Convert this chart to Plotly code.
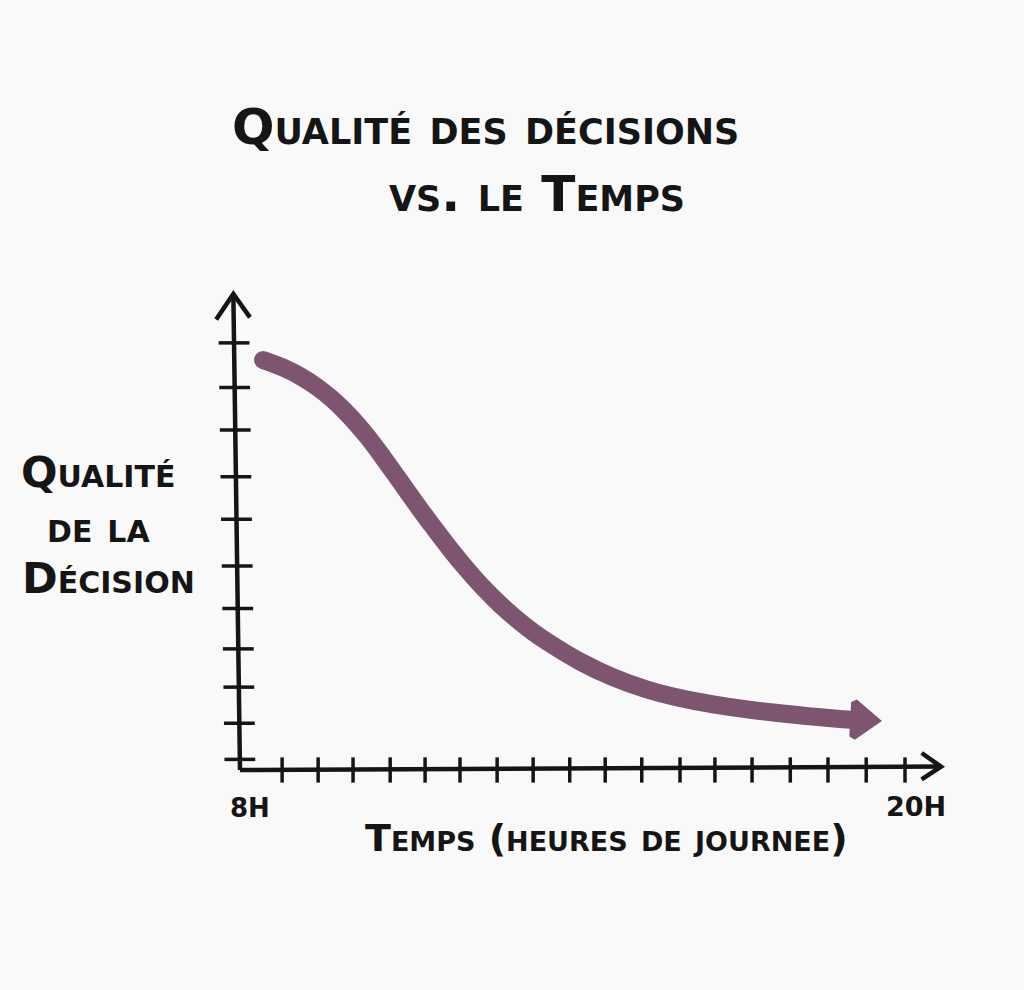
import plotly.graph_objects as go

# ---- data (hours of the day vs decision quality) ----
curve_hours = [8.415, 8.776, 9.083, 9.389, 9.678, 9.985, 10.292, 10.580, 10.887, 11.194,
               11.483, 11.789, 12.096, 12.385, 12.692, 12.998, 13.287, 13.594, 14.135,
               14.731, 15.344, 15.940, 16.535, 17.149, 17.744, 18.340, 18.827, 19.134]
curve_quality = [9.647, 9.468, 9.268, 9.012, 8.711, 8.318, 7.854, 7.358, 6.798, 6.238,
                 5.725, 5.205, 4.718, 4.296, 3.896, 3.544, 3.249, 2.976, 2.553,
                 2.181, 1.894, 1.692, 1.544, 1.428, 1.334, 1.256, 1.202, 1.172]

x_tick_hours = [8.76, 9.41, 10.04, 10.71, 11.34, 11.97, 12.64, 13.29, 13.95, 14.59,
                15.25, 15.94, 16.57, 17.24, 17.93, 18.61, 19.30, 20.0]
y_tick_levels = [0.25, 1.1, 1.95, 2.85, 3.8, 4.8, 5.9, 6.9, 8.0, 9.0, 10.05]

x_axis_hours = [8.0, 20.65]
x_axis_levels = [0.0, 0.08]
y_axis_hours = [8.0, 7.88]
y_axis_levels = [0.0, 11.2]

x_arrow_hours = [20.30, 20.65, 20.30]
x_arrow_levels = [0.40, 0.08, -0.22]
y_arrow_hours = [7.57, 7.88, 8.18]
y_arrow_levels = [10.6, 11.2, 10.65]

arrow_head_hours = [19.21]
arrow_head_quality = [1.18]

start_label = "8H"
end_label = "20H"
title_line1 = "Qualité des décisions"
title_line2 = "vs. le Temps"
x_title = "Temps (heures de journee)"
y_title = ["Qualité", "de la", "Décision"]

CURVE = "#7e5571"
INK = "#151515"
BG = "#f9f9fa"
FONT = "DejaVu Sans"

fig = go.Figure()

# axes
for xs, ys in [(x_axis_hours, x_axis_levels), (y_axis_hours, y_axis_levels),
               (x_arrow_hours, x_arrow_levels), (y_arrow_hours, y_arrow_levels)]:
    fig.add_trace(go.Scatter(x=xs, y=ys, mode="lines",
                             line=dict(color=INK, width=4.5), hoverinfo="skip"))

# tick marks
fig.add_trace(go.Scatter(x=x_tick_hours, y=[0.0] * len(x_tick_hours), mode="markers",
                         marker=dict(symbol="line-ns", size=18,
                                     line=dict(color=INK, width=3.5)),
                         hoverinfo="skip"))
fig.add_trace(go.Scatter(x=[8.0 - 0.12 * (v / 11.2) for v in y_tick_levels], y=y_tick_levels,
                         mode="markers",
                         marker=dict(symbol="line-ew", size=22,
                                     line=dict(color=INK, width=3.5)),
                         hoverinfo="skip"))

# curve
fig.add_trace(go.Scatter(x=curve_hours, y=curve_quality, mode="lines",
                         line=dict(color=CURVE, width=18, shape="spline", smoothing=1.0),
                         hoverinfo="skip"))
fig.add_trace(go.Scatter(x=curve_hours[:1], y=curve_quality[:1], mode="markers",
                         marker=dict(symbol="circle", size=18, color=CURVE),
                         hoverinfo="skip"))
fig.add_trace(go.Scatter(x=arrow_head_hours, y=arrow_head_quality, mode="markers",
                         marker=dict(symbol="triangle-right", size=30, color=CURVE, angle=3,
                                     line=dict(color=CURVE, width=7)),
                         hoverinfo="skip"))

# labels
fig.add_annotation(x=x_axis_hours[0], y=0, text=start_label, showarrow=False,
                   xshift=10, yshift=-38, xanchor="center", yanchor="middle",
                   font=dict(family=FONT, size=26, color=INK, weight="bold"))
fig.add_annotation(x=x_tick_hours[-1], y=0, text=end_label, showarrow=False,
                   xshift=11, yshift=-36, xanchor="center", yanchor="middle",
                   font=dict(family=FONT, size=27, color=INK, weight="bold"))

fig.add_annotation(xref="paper", yref="paper", x=606 / 1024, y=1 - 838 / 990,
                   text=x_title, showarrow=False, xanchor="center", yanchor="middle",
                   font=dict(family=FONT, size=38, color=INK, weight="bold", variant="small-caps"))
fig.add_annotation(xref="paper", yref="paper", x=485 / 1024, y=1 - 127 / 990,
                   text=title_line1, showarrow=False, xanchor="center", yanchor="middle",
                   font=dict(family=FONT, size=50, color=INK, weight="bold", variant="small-caps"))
fig.add_annotation(xref="paper", yref="paper", x=537 / 1024, y=1 - 194 / 990,
                   text=title_line2, showarrow=False, xanchor="center", yanchor="middle",
                   font=dict(family=FONT, size=50, color=INK, weight="bold", variant="small-caps"))
for txt, cx, cy in zip(y_title, [98, 98, 108], [472, 527, 578]):
    fig.add_annotation(xref="paper", yref="paper", x=cx / 1024, y=1 - cy / 990,
                       text=txt, showarrow=False, xanchor="center", yanchor="middle",
                       font=dict(family=FONT, size=43, color=INK, weight="bold", variant="small-caps"))

# pixel mapping: 8h -> 240px, 20h -> 905px ; level 0 -> 770px, 42.5 px per level
PXH = 665 / 12
PXQ = 42.5
fig.update_layout(
    width=1024, height=990,
    margin=dict(l=0, r=0, t=0, b=0),
    paper_bgcolor=BG, plot_bgcolor=BG,
    showlegend=False,
    xaxis=dict(range=[8 - 240 / PXH, 8 + (1024 - 240) / PXH], visible=False, fixedrange=True),
    yaxis=dict(range=[(770 - 990) / PXQ, 770 / PXQ], visible=False, fixedrange=True),
)

fig.write_html("out.html", config={"displayModeBar": False},
               post_script="document.body.style.margin='0';")
